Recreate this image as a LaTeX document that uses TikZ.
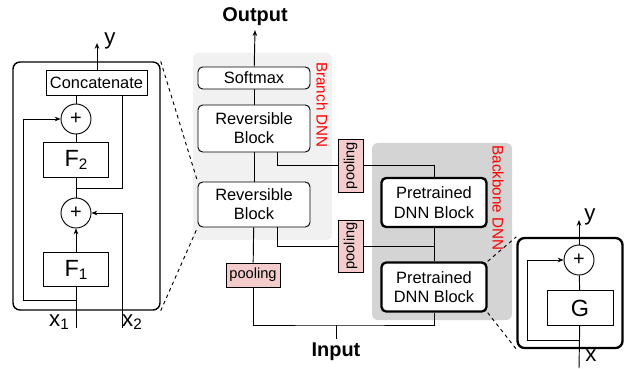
\documentclass[tikz,border=0pt]{standalone}
\usepackage{fontspec}
\setmainfont{Liberation Sans}
\usepackage{xcolor}
\usepackage{tikz}
\usetikzlibrary{arrows.meta,backgrounds}

\definecolor{poolpink}{HTML}{F4CCCC}
\definecolor{branchgray}{HTML}{F1F1F1}
\definecolor{backgray}{HTML}{D4D4D4}

\newcommand{\lowidx}[1]{\raisebox{-2.5pt}{\fontsize{13}{13}\selectfont #1}}

\begin{document}
\begin{tikzpicture}[
  x=0.03cm, y=-0.03cm,
  every node/.style={font=\fontsize{14}{16}\selectfont},
  blk/.style={rectangle, draw, fill=white, line width=0.8pt, rounded corners=4pt, align=center, inner sep=1pt},
  ptblk/.style={blk, line width=2pt, minimum width=3.15cm, minimum height=1.47cm, font=\fontsize{14}{16.5}\selectfont},
  panel/.style={rectangle, draw, rounded corners=6pt},
  fbox/.style={rectangle, draw, fill=white, line width=0.8pt, minimum width=1.95cm, minimum height=1.03cm, font=\fontsize{20}{22}\selectfont},
  add/.style={circle, draw, fill=white, line width=0.8pt, minimum size=0.9cm, inner sep=0pt, font=\fontsize{17}{17}\selectfont},
  pool/.style={rectangle, draw, fill=poolpink, line width=0.8pt, inner sep=1pt, font=\fontsize{12.5}{14}\selectfont},
  zone/.style={rectangle, rounded corners=5pt},
  tag/.style={text=red, rotate=-90, font=\fontsize{13}{14}\selectfont},
  io/.style={font=\bfseries\fontsize{17}{18}\selectfont},
  var/.style={inner sep=0pt, font=\fontsize{19}{20}\selectfont},
  arr/.style={-{Stealth[length=5pt, width=4pt]}, line width=0.8pt},
  ln/.style={line width=0.8pt},
  zoomln/.style={dashed, line width=0.8pt},
]
\useasboundingbox (0,0) rectangle (624,368);

% reversible block, zoomed in
\node[panel, line width=1.2pt, minimum width=4.41cm, minimum height=7.44cm] (lpanel) at (86.5,186) {};
\node[rectangle, draw, fill=white, line width=0.8pt, minimum width=3.03cm, minimum height=0.75cm, inner sep=0pt] (concat) at (96.5,82.5) {Concatenate};
\node[add] (addtop) at (76,119) {+};
\node[fbox] (ftwo) at (76,160) {F\lowidx{2}};
\node[add] (addbot) at (76,213) {+};
\node[fbox] (fone) at (76,269.5) {F\lowidx{1}};
\coordinate (xone) at (76,328);
\coordinate (xtwo) at (122,328);
\coordinate (ytop) at (97,43);
\coordinate (fbone) at (76,300);
\coordinate (mixj) at (76,188);
\node[var] (xonelbl) at (59,322) {x\lowidx{1}};
\node[var] (xtwolbl) at (132,322) {x\lowidx{2}};
\node[var] (ylbl) at (110,41) {y};

% branch and backbone
\node[io] (outlbl) at (255,17) {Output};
\node[blk, minimum width=3.36cm, minimum height=0.66cm] (smax) at (254,78) {Softmax};
\node[blk, minimum width=3.36cm, minimum height=1.41cm] (rbone) at (254,128.5) {Reversible\\Block};
\node[blk, minimum width=3.36cm, minimum height=1.35cm] (rbtwo) at (254,204.5) {Reversible\\Block};
\node[tag] (brtag) at (322,105) {Branch DNN};
\node[pool, rotate=90, minimum width=1.59cm, minimum height=0.75cm] (poolone) at (350.5,165.5) {pooling};
\node[pool, rotate=90, minimum width=1.56cm, minimum height=0.75cm] (pooltwo) at (350.5,246) {pooling};
\node[pool, minimum width=1.62cm, minimum height=0.72cm] (poolthree) at (253,275) {pooling};
\node[ptblk] (ptone) at (434,202.5) {Pretrained\\DNN Block};
\node[ptblk] (pttwo) at (434,287) {Pretrained\\DNN Block};
\node[tag] (bbtag) at (498,198) {Backbone DNN};
\node[io] (inlbl) at (336,352) {Input};
\coordinate (base) at (336,325);

% pretrained block, zoomed in
\node[panel, line width=2pt, minimum width=3.15cm, minimum height=3.3cm] (gpanel) at (570,293) {};
\node[add] (gadd) at (579,260) {+};
\node[fbox, minimum width=1.98cm] (gfun) at (580,308) {G};
\coordinate (xin) at (579,368);
\coordinate (gfb) at (579,340);
\coordinate (gy) at (579,220);
\node[var] (gylbl) at (590,217) {y};
\node[var] (gxlbl) at (591,356) {x};

\begin{scope}[on background layer]
\node[zone, fill=branchgray, minimum width=4.17cm, minimum height=5.61cm] (branchzone) at (262.5,146.5) {};
\node[zone, fill=backgray, minimum width=4.2cm, minimum height=5.31cm] (backzone) at (442,231.5) {};

\draw[arr] (concat.north -| ytop) -- (ytop);
\draw[ln] (addtop) -- (addtop |- concat.south);
\draw[ln] (addtop) -- (ftwo);
\draw[ln] (ftwo) -- (addbot);
\draw[arr] (fone) -- (addbot);
\draw[ln] (xone) -- (fone);
\draw[arr] (fbone) -- ++(-53,0) |- (addtop);
\draw[arr] (xtwo) |- (addbot);
\draw[ln] (mixj) -| (concat.south -| xtwo);

\draw[arr] (smax) -- (outlbl.south);
\draw[ln] (rbone) -- (smax);
\draw[ln] (rbtwo) -- (rbone);
\draw[ln] ([xshift=0.69cm]rbone.south) |- (ptone.north |- poolone) -- (ptone.north);
\draw[ln] ([xshift=0.69cm]rbtwo.south) |- (ptone.south |- pooltwo);
\draw[ln] (ptone) -- (pttwo);
\draw[ln] (rbtwo) -- (poolthree);
\draw[ln] (poolthree) |- (base) -| (pttwo.south);
\draw[ln] (base) -- (inlbl.north);

\draw[arr] (gadd) -- (gy);
\draw[ln] (gfun) -- (gadd);
\draw[ln] (xin) -- (gfun);
\draw[arr] (gfb) -- ++(-52,0) |- (gadd);

\draw[zoomln] (lpanel.north east) -- (rbtwo.north west);
\draw[zoomln] (lpanel.south east) -- (rbtwo.south west);
\draw[zoomln] (pttwo.north east) -- (gpanel.north west);
\draw[zoomln] (pttwo.south east) -- (gpanel.south west);
\end{scope}
\end{tikzpicture}
\end{document}
